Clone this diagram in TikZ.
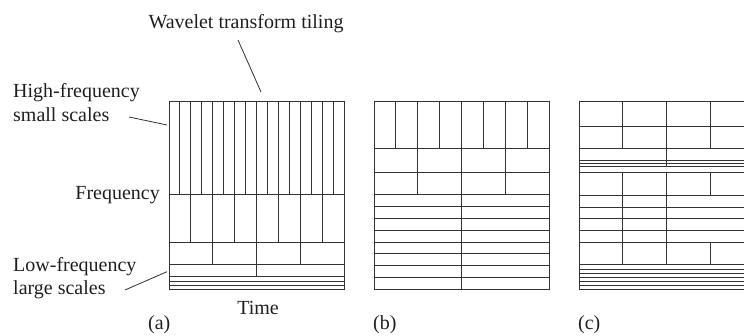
\documentclass[tikz,border=0pt]{standalone}
\usepackage{fontspec}
\setmainfont{Liberation Serif}
\begin{document}
\begin{tikzpicture}[x=1pt,y=-1pt,
  tile/.style={draw=black!80, line width=1pt},
  leader/.style={draw=black!78, line width=0.85pt},
  lbl/.style={inner sep=0pt, font=\fontsize{20}{24}\selectfont, text=black!88}]
\useasboundingbox (0,0) rectangle (744,336);
\clip (0,0) rectangle (744,336);

% ---------- (a) wavelet tiling: dyadic bands ----------
\foreach \k in {1,...,15} \draw[tile] ({169+\k*175/16},101.7) -- ({169+\k*175/16},195);
\foreach \k in {1,...,7}  \draw[tile] ({169+\k*175/8},195) -- ({169+\k*175/8},242.3);
\foreach \k in {1,2,3}    \draw[tile] ({169+\k*175/4},242.3) -- ({169+\k*175/4},264.3);
\draw[tile] (256.5,264.3) -- (256.5,277);
\foreach \y in {195,242.3,264.3,277,282,285.6} \draw[tile] (169,\y) -- (344,\y);
\draw[tile] (169,101.7) rectangle (344,289.3);

% ---------- (b) ----------
\foreach \k in {1,...,7} \draw[tile] ({374+\k*175/8},101.7) -- ({374+\k*175/8},148.3);
\foreach \k in {1,2,3}   \draw[tile] ({374+\k*175/4},148.3) -- ({374+\k*175/4},195);
\draw[tile] (461.5,195) -- (461.5,289.3);
\foreach \y in {148.3,172.3,195,206.8,218.6,230.4,242.2,254,265.7,277.5}
  \draw[tile] (374,\y) -- (549,\y);
\draw[tile] (374,101.7) rectangle (549,289.3);

% ---------- (c) ----------
\draw[tile] (622.75,101.7) -- (622.75,148.3);
\draw[tile] (622.75,172.7) -- (622.75,265);
\draw[tile] (666.5,101.7) -- (666.5,166.7);
\draw[tile] (666.5,172.7) -- (666.5,265);
\draw[tile] (710.25,101.7) -- (710.25,148.3);
\draw[tile] (710.25,172.7) -- (710.25,195.5);
\draw[tile] (710.25,242.7) -- (710.25,265);
\foreach \y in {126.7,148.3,160.7,164,166.7,172.7,195.5,207.3,218.5,230.7,242.7,265,269.05,273.1,277.15,281.2,285.25}
  \draw[tile] (579,\y) -- (754,\y);
\draw[tile] (579,101.7) rectangle (754,289.3);

% ---------- labels ----------
\node[lbl, anchor=base] (title) at (246,29) {Wavelet transform tiling};
\coordinate (title-lead) at (238,40);
\coordinate (tile-top) at (261,92);
\draw[leader] (title-lead) -- (tile-top);

\node[lbl, anchor=base west] (hf1) at (13,97.5) {High-frequency};
\node[lbl, anchor=base west] (hf2) at (13,121.5) {small scales};
\coordinate (hf-lead) at (129,117);
\coordinate (hf-tip) at (167,125);
\draw[leader] (hf-lead) -- (hf-tip);

\node[lbl, anchor=base east] (freq) at (160,200) {Frequency};

\node[lbl, anchor=base west] (lf1) at (13,271.5) {Low-frequency};
\node[lbl, anchor=base west] (lf2) at (13,295) {large scales};
\coordinate (lf-lead) at (125,290);
\coordinate (lf-tip) at (167,271.7);
\draw[leader] (lf-lead) -- (lf-tip);

\node[lbl, anchor=base] (time) at (258,315) {Time};
\node[lbl, anchor=base west] (capa) at (148,329.5) {(a)};
\node[lbl, anchor=base west] (capb) at (373,329.5) {(b)};
\node[lbl, anchor=base west] (capc) at (578,329.5) {(c)};
\end{tikzpicture}
\end{document}
